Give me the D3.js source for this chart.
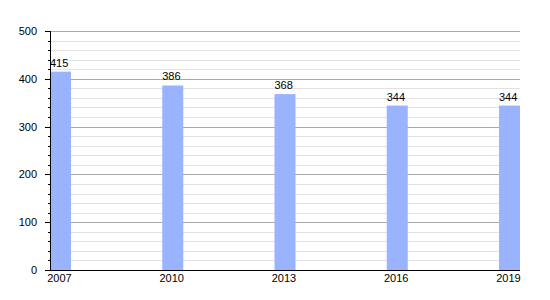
<!DOCTYPE html>
<html>
<head>
<meta charset="utf-8">
<script src="https://cdn.jsdelivr.net/npm/d3@7"></script>
<style>
  body { margin: 0; background: #fff; }
  svg text { font-family: "Liberation Sans", Arial, sans-serif; font-size: 11px; fill: #000; }
</style>
</head>
<body>
<div id="chart"></div>
<script>
// data
var years = [2007, 2010, 2013, 2016, 2019];
var values = [415, 386, 368, 344, 344];
var yTicks = [0, 100, 200, 300, 400, 500];

var width = 550, height = 300;
var plotLeft = 50, plotRight = 520, plotTop = 31, plotBottom = 270;
var barW = 21;

var svg = d3.select("#chart").append("svg")
  .attr("width", width)
  .attr("height", height);

var x = d3.scaleLinear().domain([2007, 2019]).range([plotLeft, plotRight - barW]);
var y = d3.scaleLinear().domain([0, 500]).range([plotBottom, plotTop]);

// minor grid every 20
svg.append("g").selectAll("line")
  .data(d3.range(20, 501, 20).filter(function(v) { return v % 100 != 0; }))
  .enter().append("line")
  .attr("x1", plotLeft).attr("x2", plotRight)
  .attr("y1", function(d) { return Math.round(y(d)) + 0.5; })
  .attr("y2", function(d) { return Math.round(y(d)) + 0.5; })
  .attr("stroke", "#e2e2e2");

// major grid
svg.append("g").selectAll("line")
  .data(yTicks.slice(1))
  .enter().append("line")
  .attr("x1", plotLeft).attr("x2", plotRight)
  .attr("y1", function(d) { return Math.round(y(d)) + 0.5; })
  .attr("y2", function(d) { return Math.round(y(d)) + 0.5; })
  .attr("stroke", "#aaaaaa");

// bars
svg.append("g").selectAll("rect")
  .data(values)
  .enter().append("rect")
  .attr("x", function(d, i) { return x(years[i]); })
  .attr("y", function(d) { return y(d); })
  .attr("width", barW)
  .attr("height", function(d) { return plotBottom - y(d); })
  .attr("fill", "#99b3ff");

// value labels
svg.append("g").selectAll("text")
  .data(values)
  .enter().append("text")
  .attr("x", function(d, i) { return x(years[i]); })
  .attr("y", function(d) { return y(d) - 5; })
  .text(function(d) { return d; });

// y axis with minor ticks
var yAxis = svg.append("g").attr("transform", "translate(" + plotLeft + ",0)");
yAxis.append("line")
  .attr("x1", 0.5).attr("x2", 0.5)
  .attr("y1", plotTop).attr("y2", plotBottom)
  .attr("stroke", "#000");
yAxis.selectAll(".minor")
  .data(d3.range(0, 501, 20))
  .enter().append("line")
  .attr("class", "minor")
  .attr("x1", function(d) { return d % 100 == 0 ? -5 : -2; })
  .attr("x2", 0)
  .attr("y1", function(d) { return Math.round(y(d)) + 0.5; })
  .attr("y2", function(d) { return Math.round(y(d)) + 0.5; })
  .attr("stroke", "#000");
yAxis.selectAll(".lbl")
  .data(yTicks)
  .enter().append("text")
  .attr("class", "lbl")
  .attr("x", -13)
  .attr("y", function(d) { return y(d) + 4; })
  .attr("text-anchor", "end")
  .text(function(d) { return d; });

// x axis
svg.append("line")
  .attr("x1", plotLeft - 5).attr("x2", plotRight)
  .attr("y1", plotBottom + 0.5).attr("y2", plotBottom + 0.5)
  .attr("stroke", "#000");
svg.append("g").selectAll("text")
  .data(years)
  .enter().append("text")
  .attr("x", function(d) { return x(d) + barW / 2 - 1; })
  .attr("y", plotBottom + 12)
  .attr("text-anchor", "middle")
  .text(function(d) { return d; });
</script>
</body>
</html>
